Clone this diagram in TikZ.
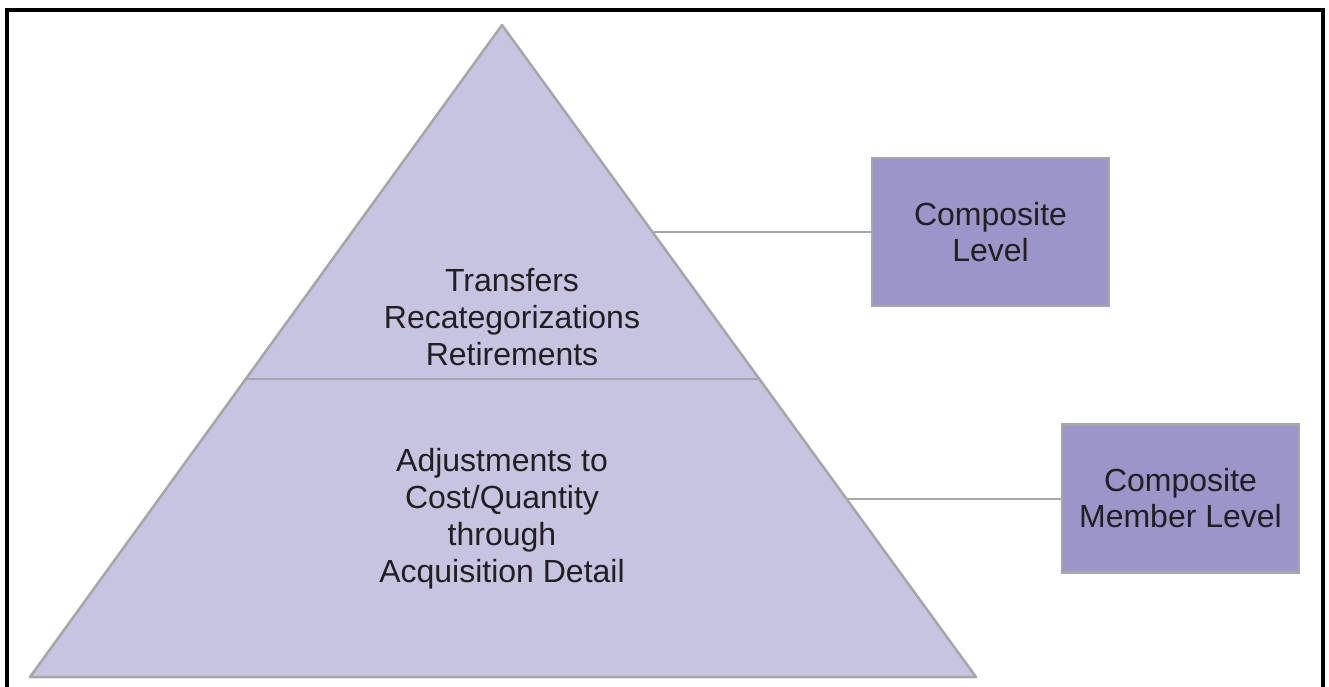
\documentclass[tikz,border=0pt]{standalone}
\usepackage{fontspec}
\setmainfont{Liberation Sans}
\definecolor{trifill}{HTML}{C6C4E1}
\definecolor{boxfill}{HTML}{9C95C9}
\definecolor{edgegray}{HTML}{A6A6A6}
\definecolor{txt}{HTML}{231F20}
\tikzset{
  tri/.style={fill=trifill, draw=edgegray, line width=2.5pt, line join=round},
  levelbox/.style={rectangle, fill=boxfill, draw=edgegray, line width=2.5pt, minimum width=237pt, minimum height=148pt, inner sep=0pt, align=center, text=txt, font=\fontsize{32}{36}\selectfont},
  label/.style={align=center, inner sep=0pt, text=txt, font=\fontsize{32}{37}\selectfont},
  link/.style={draw=edgegray, line width=2pt},
  frame/.style={draw=black, line width=4pt}
}
\begin{document}
\begin{tikzpicture}[x=1pt,y=-1pt]
\useasboundingbox (0,0) rectangle (1329,686);
\draw[frame] (7,690) -- (7,10) -- (1323,10) -- (1323,690);
\coordinate (apex) at (502,25);
\coordinate (bl) at (30,677);
\coordinate (br) at (976,677);
\coordinate (dl) at (246,379);
\coordinate (dr) at (758,379);
\draw[tri] (apex) -- (br) -- (bl) -- cycle;
\draw[draw=edgegray, line width=2.5pt] (dl) -- (dr);
\node[label] (upper) at (512,317) {Transfers\\Recategorizations\\Retirements};
\node[label] (lower) at (502,519) {Adjustments to\\Cost/Quantity\\through\\Acquisition Detail};
\node[levelbox] (box1) at (990.5,232) {Composite\\Level};
\node[levelbox] (box2) at (1180.5,498.5) {Composite\\Member Level};
\coordinate (c1) at (654,232);
\coordinate (c2) at (847,498.5);
\draw[link] (c1) -- (box1.west);
\draw[link] (c2) -- (box2.west);
\end{tikzpicture}
\end{document}
